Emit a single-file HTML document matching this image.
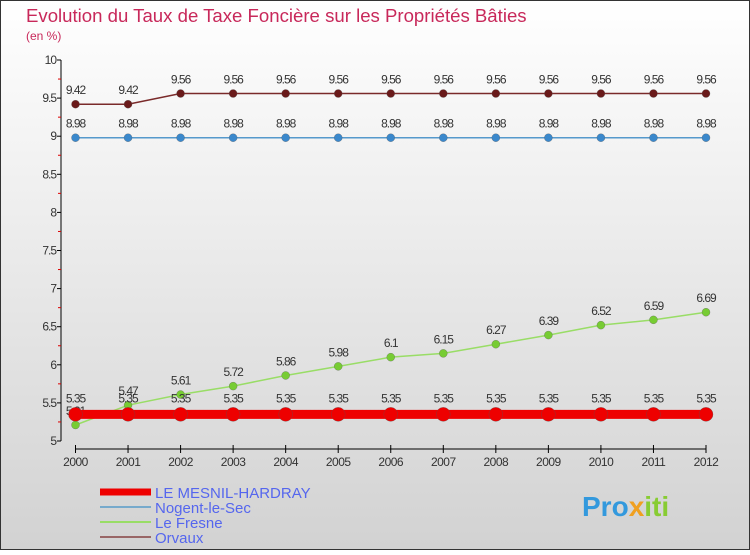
<!DOCTYPE html>
<html><head><meta charset="utf-8">
<style>
html,body{margin:0;padding:0}
body{width:750px;height:550px;overflow:hidden;font-family:"Liberation Sans",sans-serif}
</style></head>
<body>
<svg id="chart" width="750" height="550" xmlns="http://www.w3.org/2000/svg" font-family="Liberation Sans, sans-serif">
<defs>
<linearGradient id="bg" x1="0" y1="0" x2="0" y2="1">
<stop offset="0" stop-color="#ffffff"/><stop offset="1" stop-color="#d2d2d2"/>
</linearGradient>
</defs>
<rect x="0.5" y="0.5" width="749" height="549" fill="url(#bg)" stroke="#333" stroke-width="1"/>
<text x="26" y="22" font-size="18.6" fill="#c8285a">Evolution du Taux de Taxe Foncière sur les Propriétés Bâties</text>
<text x="26" y="40" font-size="12" fill="#c8285a">(en %)</text>
<g id="axes"></g>
<g id="series"></g>
<g id="legend"></g>
<text x="582" y="516" font-size="28" font-weight="bold" fill="#3399dd">Pro<tspan fill="#f0a020">x</tspan><tspan fill="#88cc33">iti</tspan></text>
</svg>
<script>
const years=[2000,2001,2002,2003,2004,2005,2006,2007,2008,2009,2010,2011,2012];
const yTicks=[5,5.5,6,6.5,7,7.5,8,8.5,9,9.5,10];
const mesnil=[5.35,5.35,5.35,5.35,5.35,5.35,5.35,5.35,5.35,5.35,5.35,5.35,5.35];
const nogent=[8.98,8.98,8.98,8.98,8.98,8.98,8.98,8.98,8.98,8.98,8.98,8.98,8.98];
const fresne=[5.21,5.47,5.61,5.72,5.86,5.98,6.1,6.15,6.27,6.39,6.52,6.59,6.69];
const orvaux=[9.42,9.42,9.56,9.56,9.56,9.56,9.56,9.56,9.56,9.56,9.56,9.56,9.56];
const seriesNames=["LE MESNIL-HARDRAY","Nogent-le-Sec","Le Fresne","Orvaux"];

const NS="http://www.w3.org/2000/svg";
const x0=75.5,x1=706,yMin=5,yMax=10,py0=441,py1=60;
const xs=i=>x0+(x1-x0)*i/(years.length-1);
const ys=v=>py0-(v-yMin)/(yMax-yMin)*(py0-py1);
function mk(tag,attrs,parent){const e=document.createElementNS(NS,tag);for(const k in attrs)e.setAttribute(k,attrs[k]);parent.appendChild(e);return e;}
const axes=document.getElementById('axes'),ser=document.getElementById('series'),leg=document.getElementById('legend');

let l=mk('line',{x1:61,y1:60,x2:61,y2:441,stroke:'#000'},axes);


yTicks.forEach((t,i)=>{
  const y=ys(t);
  const tk=mk('line',{x1:57,y1:y,x2:61,y2:y,stroke:'#000'},axes);
  
  
  if(i<yTicks.length-1){
    const m=mk('line',{x1:58,y1:ys(t+0.25),x2:61,y2:ys(t+0.25),stroke:'#d00'},axes);
    
    
  }
  const tx=mk('text',{x:56,y:y+4,'font-size':12,'text-anchor':'end',fill:'#333','letter-spacing':'-1'},axes);
  
  
  tx.textContent=String(t);
});
l=mk('line',{x1:x0,y1:449,x2:x1,y2:449,stroke:'#000'},axes);


years.forEach((yr,i)=>{
  const x=xs(i);
  const tk=mk('line',{x1:x,y1:445,x2:x,y2:453,stroke:'#000'},axes);
  
  
  const tx=mk('text',{x:x,y:466,'font-size':12,'text-anchor':'middle',fill:'#333','letter-spacing':'-0.5'},axes);
  
  
  tx.textContent=String(yr);
});

function drawSeries(vals,name,color,lw,r,dotColor,labelDy){
  const g=mk('g',{},ser);
  
  
  const pl=mk('polyline',{points:vals.map((v,i)=>xs(i)+','+ys(v)).join(' '),fill:'none',stroke:color,'stroke-width':lw},g);
  
  
  vals.forEach((v,i)=>{
    const c=mk('circle',{cx:xs(i),cy:ys(v),r:r,fill:dotColor,stroke:'#555','stroke-width':0.3},g);
    
    
    const t=mk('text',{x:xs(i),y:ys(v)+labelDy,'font-size':12,'text-anchor':'middle',fill:'#333','letter-spacing':'-1'},g);
    
    
    t.textContent=String(v);
  });
}
drawSeries(orvaux,'orvaux','#7a2a2a',1.5,4,'#6a1a1a',-10);
drawSeries(nogent,'nogent-le-sec','#5599cc',1.5,4,'#3a88cc',-10);
drawSeries(fresne,'le-fresne','#99dd66',1.5,4,'#77cc33',-10);
drawSeries(mesnil,'le-mesnil-hardray','#ee0000',9,7,'#ee0000',-12);

const legColors=['#ee0000','#77aacc','#99dd66','#996666'];
const legW=[7,2,2,2];
seriesNames.forEach((n,i)=>{
  const y=492+i*15;
  const g=mk('g',{},leg);
  
  
  const ln=mk('line',{x1:100,y1:y,x2:151,y2:y,stroke:legColors[i],'stroke-width':legW[i]},g);
  
  
  const t=mk('text',{x:155,y:y+6,'font-size':15,fill:'#5566ee'},g);
  
  
  t.textContent=n;
});
</script>
</body></html>
